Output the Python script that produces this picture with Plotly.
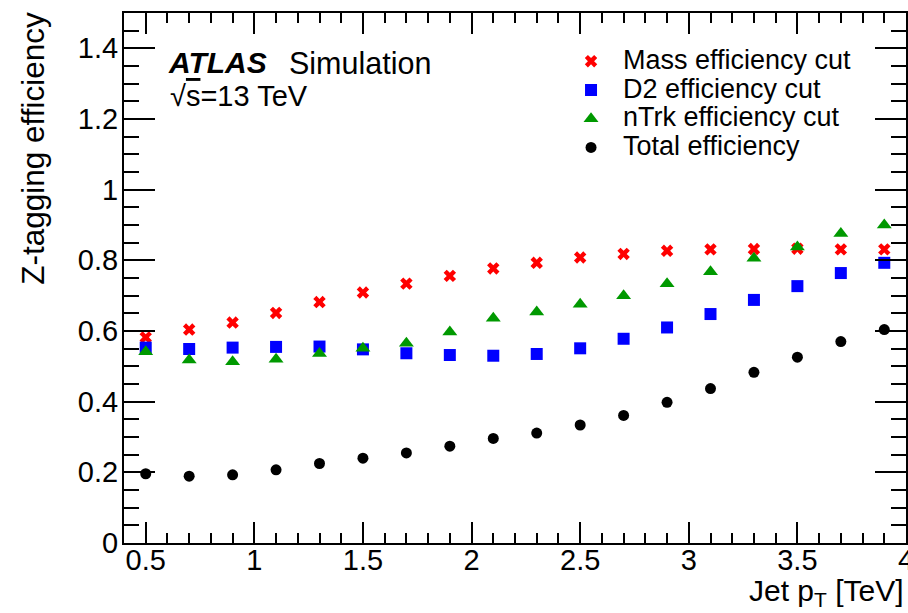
import plotly.graph_objects as go

# Jet pT bin centres [TeV]
pt = [0.5, 0.7, 0.9, 1.1, 1.3, 1.5, 1.7, 1.9, 2.1, 2.3, 2.5, 2.7, 2.9, 3.1, 3.3, 3.5, 3.7, 3.9]

mass_eff = [0.582, 0.604, 0.624, 0.651, 0.682, 0.709, 0.734, 0.756, 0.777,
            0.793, 0.808, 0.818, 0.827, 0.831, 0.832, 0.833, 0.831, 0.831]
d2_eff = [0.553, 0.549, 0.553, 0.555, 0.556, 0.548, 0.537, 0.532, 0.530,
          0.535, 0.551, 0.578, 0.610, 0.648, 0.688, 0.727, 0.764, 0.793]
ntrk_eff = [0.541, 0.518, 0.513, 0.520, 0.536, 0.551, 0.565, 0.597, 0.636,
            0.654, 0.676, 0.700, 0.734, 0.768, 0.806, 0.838, 0.876, 0.900]
total_eff = [0.196, 0.189, 0.193, 0.207, 0.225, 0.240, 0.255, 0.274, 0.296,
             0.311, 0.334, 0.361, 0.398, 0.437, 0.483, 0.526, 0.570, 0.604]

series_names = ["Mass efficiency cut", "D2 efficiency cut", "nTrk efficiency cut", "Total efficiency"]

FONT = "Liberation Sans, Arial, Helvetica, sans-serif"


def legend_label(s):
    return "<span style='font-size:27px'>" + s + "</span>"


fig = go.Figure()
fig.add_trace(go.Scatter(x=pt, y=mass_eff, mode="markers", name=legend_label(series_names[0]),
                         marker=dict(symbol="x", size=11, color="#ff0000", line=dict(width=0))))
fig.add_trace(go.Scatter(x=pt, y=d2_eff, mode="markers", name=legend_label(series_names[1]),
                         marker=dict(symbol="square", size=12, color="#0000ff", line=dict(width=0))))
fig.add_trace(go.Scatter(x=pt, y=ntrk_eff, mode="markers", name=legend_label(series_names[2]),
                         marker=dict(symbol="triangle-up", size=13, color="#009900", line=dict(width=0))))
fig.add_trace(go.Scatter(x=pt, y=total_eff, mode="markers", name=legend_label(series_names[3]),
                         marker=dict(symbol="circle", size=11, color="#000000", line=dict(width=0))))

axis_common = dict(showline=True, linecolor="#000000", linewidth=2, mirror="allticks",
                   ticks="inside", tickcolor="#000000", tickwidth=2, showgrid=False,
                   zeroline=False, tickfont=dict(family=FONT, size=29, color="#000000"),
                   ticklabeloverflow="allow", automargin=False)

fig.update_xaxes(range=[0.4, 4.0], tick0=0, dtick=0.5, ticklen=21, ticklabelstandoff=-10,
                 minor=dict(ticks="inside", dtick=0.1, tick0=0, ticklen=10, tickwidth=2,
                            tickcolor="#000000", showgrid=False),
                 **axis_common)
fig.update_yaxes(range=[0, 1.5], tick0=0, dtick=0.2, ticklen=31, ticklabelstandoff=-2,
                 minor=dict(ticks="inside", dtick=0.05, tick0=0, ticklen=15, tickwidth=2,
                            tickcolor="#000000", showgrid=False),
                 **axis_common)

fig.update_layout(
    width=908, height=613,
    margin=dict(l=124, r=2, t=13, b=70, autoexpand=False),
    paper_bgcolor="white", plot_bgcolor="white",
    font=dict(family=FONT, color="#000000"),
    showlegend=True,
    legend=dict(x=0.5563, y=0.9456, xanchor="left", yanchor="top",
                font=dict(family=FONT, size=19.8, color="#000000"),
                bgcolor="rgba(0,0,0,0)", borderwidth=0, itemwidth=54,
                tracegroupgap=0),
    annotations=[
        dict(text="<b><i>ATLAS</i></b>", xref="paper", yref="paper", x=0.0533, y=0.906,
             xanchor="left", yanchor="middle", showarrow=False,
             font=dict(family=FONT, size=30, color="#000000")),
        dict(text="Simulation", xref="paper", yref="paper", x=0.209, y=0.906,
             xanchor="left", yanchor="middle", showarrow=False,
             font=dict(family=FONT, size=30.5, color="#000000")),
        dict(text="√<span style='text-decoration:overline'>s</span>=13 TeV", xref="paper", yref="paper",
             x=0.056, y=0.843, xanchor="left", yanchor="middle", showarrow=False,
             font=dict(family=FONT, size=29, color="#000000")),
        dict(text="Jet p<sub>T</sub> [TeV]", xref="paper", yref="paper", x=1.0, y=-0.0925,
             xanchor="right", yanchor="middle", showarrow=False,
             font=dict(family=FONT, size=30, color="#000000")),
        dict(text="Z-tagging efficiency", xref="paper", yref="paper", x=-0.1164, y=1.007,
             xanchor="center", yanchor="top", textangle=-90, showarrow=False,
             font=dict(family=FONT, size=31.5, color="#000000")),
    ],
)

fig.write_html("out.html")
